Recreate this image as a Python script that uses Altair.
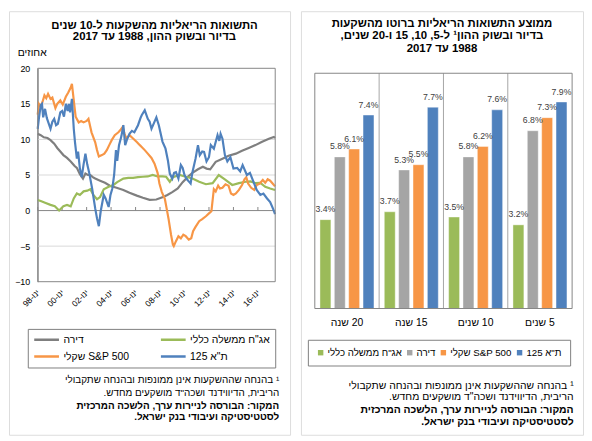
import altair as alt
import pandas as pd
from datetime import datetime, timedelta

RLE, PDF = "\u202b", "\u202c"


def rtl(s):
    return RLE + s + PDF


FONT = "Liberation Sans"

# ---------------- left panel: 10-year real returns ----------------
SER_HOUSE = "דירה"
SER_BOND = 'אג"ח ממשלה כללי'
SER_SP = "S&P 500 שקלי"
SER_TA = 'ת"א 125'

house = [(1998.00, 10.8), (1998.25, 10.6), (1998.50, 10.3), (1998.80, 10.2), (1999.05, 9.9),
         (1999.35, 9.4), (1999.60, 8.8), (1999.85, 8.3), (2000.10, 7.8), (2000.40, 7.4),
         (2000.70, 6.9), (2001.00, 6.3), (2001.20, 6.0), (2001.45, 5.1), (2001.70, 4.5),
         (2001.90, 5.2), (2002.10, 5.0), (2002.30, 5.0), (2002.50, 4.7), (2002.70, 4.5),
         (2003.10, 4.2), (2003.50, 3.9), (2003.90, 3.5), (2004.45, 3.2), (2005.00, 2.9),
         (2005.50, 2.5), (2006.10, 2.1), (2006.60, 1.8), (2007.15, 1.5), (2007.70, 1.55),
         (2008.25, 1.9), (2008.60, 2.2), (2009.00, 2.6), (2009.45, 3.1), (2009.85, 4.0),
         (2010.25, 4.7), (2010.65, 5.3), (2011.10, 5.8), (2011.50, 6.15), (2011.80, 5.9),
         (2012.10, 5.8), (2012.55, 6.85), (2013.10, 7.3), (2013.60, 7.7), (2014.20, 8.0),
         (2014.70, 8.4), (2015.25, 8.8), (2015.80, 9.2), (2016.30, 9.65), (2016.90, 10.1),
         (2017.30, 10.35), (2017.40, 10.2)]

bond = [(1998.00, 1.5), (1998.30, 1.3), (1998.60, 1.1), (1999.05, 0.8), (1999.40, 0.6),
        (1999.75, 0.0), (2000.10, 0.6), (2000.40, 0.8), (2000.70, 0.6), (2000.95, 1.7),
        (2001.20, 2.4), (2001.45, 2.2), (2001.75, 2.7), (2002.05, 2.8), (2002.30, 3.0),
        (2002.55, 2.2), (2002.85, 1.6), (2003.10, 1.9), (2003.40, 3.0), (2003.80, 3.35),
        (2004.20, 3.6), (2004.50, 4.0), (2005.00, 4.5), (2005.40, 4.6), (2005.80, 4.6),
        (2006.20, 4.7), (2006.60, 4.75), (2007.00, 4.8), (2007.40, 5.0), (2007.80, 4.8),
        (2008.20, 4.8), (2008.50, 4.75), (2008.80, 4.05), (2009.05, 4.7), (2009.60, 5.0),
        (2010.10, 4.75), (2010.65, 4.5), (2011.20, 4.05), (2011.75, 3.7), (2012.30, 3.85),
        (2012.80, 5.0), (2013.35, 4.3), (2013.90, 3.6), (2014.45, 3.85), (2015.00, 4.05),
        (2015.40, 4.1), (2015.80, 3.85), (2016.20, 3.9), (2016.60, 3.35), (2017.00, 3.1),
        (2017.40, 2.9)]

sp = [(1998.00, 13.5), (1998.10, 15.0), (1998.25, 14.6), (1998.40, 15.3), (1998.55, 16.2),
      (1998.70, 15.8), (1998.85, 16.4), (1999.05, 15.7), (1999.20, 15.9), (1999.45, 14.4),
      (1999.60, 15.0), (1999.85, 15.5), (2000.05, 14.9), (2000.30, 16.0), (2000.50, 16.6),
      (2000.70, 17.3), (2000.80, 17.8), (2000.95, 15.5), (2001.10, 13.2), (2001.35, 12.4),
      (2001.55, 12.6), (2001.75, 12.4), (2002.00, 12.6), (2002.15, 12.9), (2002.40, 11.0),
      (2002.70, 9.6), (2002.85, 8.5), (2003.00, 7.6), (2003.25, 7.8), (2003.45, 8.0),
      (2003.65, 8.5), (2003.85, 9.2), (2004.05, 9.9), (2004.30, 10.6), (2004.60, 11.0),
      (2004.80, 11.4), (2004.95, 11.75), (2005.10, 10.8), (2005.25, 10.1), (2005.50, 10.6),
      (2005.75, 10.2), (2006.10, 9.65), (2006.35, 9.2), (2006.50, 8.95), (2006.75, 8.5),
      (2007.00, 8.0), (2007.30, 7.4), (2007.55, 6.6), (2007.80, 5.3), (2007.95, 3.8),
      (2008.15, 2.6), (2008.40, 1.6), (2008.55, 0.2), (2008.70, -1.2), (2008.90, -3.4),
      (2009.05, -4.8), (2009.12, -5.0), (2009.30, -4.3), (2009.50, -3.6), (2009.70, -3.9),
      (2009.90, -3.4), (2010.10, -3.6), (2010.35, -4.1), (2010.55, -3.9), (2010.70, -2.9),
      (2010.90, -2.3), (2011.20, -1.5), (2011.45, -1.2), (2011.75, -0.8), (2012.00, -0.4),
      (2012.20, -0.1), (2012.40, 3.0), (2012.55, 2.7), (2012.75, 3.5), (2012.90, 3.1),
      (2013.10, 3.2), (2013.35, 3.7), (2013.60, 3.5), (2013.80, 2.4), (2014.00, 2.2),
      (2014.20, 2.4), (2014.45, 2.9), (2014.70, 3.6), (2014.90, 4.4), (2015.05, 4.7),
      (2015.20, 3.8), (2015.45, 3.2), (2015.70, 2.9), (2015.90, 3.6), (2016.15, 3.8),
      (2016.40, 4.3), (2016.60, 3.9), (2016.80, 4.4), (2017.00, 4.2), (2017.20, 3.8),
      (2017.40, 3.4)]

ta = [(1998.00, 11.5), (1998.10, 13.0), (1998.25, 14.8), (1998.35, 15.0), (1998.45, 13.1),
      (1998.60, 14.3), (1998.75, 13.0), (1999.05, 11.5), (1999.20, 12.5), (1999.35, 12.9),
      (1999.50, 12.0), (1999.65, 12.2), (1999.85, 13.8), (2000.00, 14.0), (2000.15, 13.2),
      (2000.30, 15.0), (2000.45, 14.0), (2000.55, 15.0), (2000.65, 13.8), (2000.80, 15.7),
      (2000.95, 11.5), (2001.05, 9.6), (2001.20, 7.3), (2001.30, 8.3), (2001.45, 5.9),
      (2001.60, 4.7), (2001.75, 6.5), (2001.90, 8.0), (2002.05, 6.5), (2002.20, 5.4),
      (2002.45, 3.1), (2002.70, 0.3), (2002.85, -1.1), (2003.00, -2.2), (2003.15, -0.1),
      (2003.40, 2.2), (2003.55, 1.7), (2003.80, 0.5), (2003.95, 2.2), (2004.10, 3.1),
      (2004.25, 5.0), (2004.40, 8.5), (2004.50, 7.0), (2004.65, 9.2), (2004.85, 10.5),
      (2005.00, 12.0), (2005.15, 9.2), (2005.30, 10.0), (2005.50, 10.8), (2005.70, 11.2),
      (2005.90, 11.0), (2006.20, 12.0), (2006.40, 13.0), (2006.50, 13.4), (2006.75, 14.1),
      (2007.00, 12.9), (2007.15, 12.5), (2007.30, 11.5), (2007.50, 12.3), (2007.70, 13.1),
      (2007.90, 12.0), (2008.20, 9.7), (2008.45, 8.7), (2008.65, 7.0), (2008.80, 5.2),
      (2009.00, 4.5), (2009.15, 5.3), (2009.30, 5.4), (2009.50, 4.5), (2009.70, 6.4),
      (2009.85, 6.0), (2010.00, 5.0), (2010.20, 4.4), (2010.40, 4.0), (2010.50, 3.8),
      (2010.65, 5.4), (2010.90, 7.3), (2011.10, 9.2), (2011.25, 7.8), (2011.45, 8.3),
      (2011.60, 8.25), (2011.80, 6.9), (2012.00, 7.5), (2012.15, 9.2), (2012.40, 8.7),
      (2012.70, 10.6), (2012.85, 9.8), (2012.95, 10.8), (2013.10, 10.1), (2013.30, 7.8),
      (2013.50, 6.9), (2013.75, 7.5), (2014.00, 5.9), (2014.30, 6.0), (2014.55, 5.5),
      (2014.75, 6.4), (2015.10, 5.0), (2015.35, 5.3), (2015.65, 4.0), (2015.90, 2.9),
      (2016.20, 2.2), (2016.45, 2.4), (2016.75, 1.7), (2017.00, 1.2), (2017.25, 0.2),
      (2017.40, -0.5)]

tick_years = [1998, 2000, 2002, 2004, 2006, 2008, 2010, 2012, 2014, 2016]
y_ticks = [-10, -5, 0, 5, 10, 15, 20]
grid_vals = [-5, 5, 10, 15]

line_order = [SER_HOUSE, SER_BOND, SER_SP, SER_TA]
line_colors = ["#7F7F7F", "#9BBB59", "#F79646", "#4F81BD"]

# ---------------- right panel: average returns ----------------
cats = ["20 שנה", "15 שנה", "10 שנים", "5 שנים"]
bar_order = [SER_BOND, SER_HOUSE, SER_SP, SER_TA]
bar_colors = ["#9BBB59", "#A5A5A5", "#F79646", "#4F81BD"]
bond_avg = [3.4, 3.7, 3.5, 3.2]
house_avg = [5.8, 5.3, 5.8, 6.8]
sp_avg = [6.1, 5.5, 6.2, 7.3]
ta_avg = [7.4, 7.7, 7.6, 7.9]


def to_date(y):
    yi = int(y)
    return datetime(yi, 1, 1) + timedelta(days=round((y - yi) * 365.25))


rows = []
for name, pts in [(SER_HOUSE, house), (SER_BOND, bond), (SER_SP, sp), (SER_TA, ta)]:
    for t, v in pts:
        rows.append({"date": to_date(t), "v": v, "series": name})
lines_df = pd.DataFrame(rows)
ticks_df = pd.DataFrame({"d": [datetime(y, 1, 1) for y in tick_years]})
grid_df = pd.DataFrame({"g": grid_vals})

brows = []
for name, vals in [(SER_BOND, bond_avg), (SER_HOUSE, house_avg), (SER_SP, sp_avg), (SER_TA, ta_avg)]:
    for c, v in zip(cats, vals):
        brows.append({"cat": c, "kind": name, "v": v})
bars_df = pd.DataFrame(brows)
sep_df = pd.DataFrame({"cat": cats[1:]})

RTL_EXPR = f"'{RLE}' + datum.label + '{PDF}'"


def txt(s, x, y, size=10.5, bold=False, align="center", color="#000000"):
    return alt.Chart(pd.DataFrame({"t": [rtl(s)]})).mark_text(
        align=align, baseline="middle", fontSize=size,
        fontWeight="bold" if bold else "normal", font=FONT, color=color
    ).encode(x=alt.value(x), y=alt.value(y), text="t:N")


# ================= LEFT PANEL =================
LW, LH = 284, 428
xscale = alt.Scale(domain=[alt.DateTime(year=1998, month=1, date=1),
                           alt.DateTime(year=2017, month=6, date=1)], range=[29, 269])
yscale = alt.Scale(domain=[-10, 20], range=[273.3, 57.7], nice=False, zero=False)

xaxis = alt.Axis(values=[alt.DateTime(year=y, month=1, date=1) for y in tick_years],
                 labelExpr=f"'{RLE}ינו-' + timeFormat(datum.value, '%y') + '{PDF}'",
                 labelAngle=-45, labelAlign="right", labelBaseline="middle",
                 labelFontSize=8.5, labelColor="#000000", labelPadding=9,
                 domain=False, ticks=False, grid=False, offset=273.3 - LH,
                 title=None, labelOverlap=False, labelFlush=False)
yaxis = alt.Axis(values=y_ticks, orient="left", offset=-29, domain=True,
                 domainColor="#868686", ticks=False, grid=False, labelFontSize=9,
                 labelColor="#000000", labelPadding=8, title=None, format="d")
leg1 = alt.Legend(orient="none", legendX=19, legendY=321, columns=2, direction="horizontal",
                  title=None, symbolType="stroke", symbolSize=625, symbolStrokeWidth=2.5,
                  clipHeight=12, labelFontSize=10.5, labelColor="#000000",
                  labelOffset=3, columnPadding=30, rowPadding=5, padding=5,
                  strokeColor="#7F7F7F", labelExpr=RTL_EXPR, labelLimit=300)

grid = alt.Chart(grid_df).mark_rule(color="#D9D9D9", strokeWidth=1).encode(
    y=alt.Y("g:Q", scale=yscale, axis=yaxis), x=alt.value(29), x2=alt.value(269))
zero = alt.Chart(pd.DataFrame({"z": [0]})).mark_rule(color="#868686", strokeWidth=1).encode(
    y=alt.Y("z:Q", scale=yscale, axis=yaxis), x=alt.value(29), x2=alt.value(269))
tks = alt.Chart(ticks_df).transform_calculate(z0="0", z1="0.5").mark_rule(
    color="#868686", strokeWidth=1).encode(
    x=alt.X("d:T", scale=xscale, axis=xaxis),
    y=alt.Y("z0:Q", scale=yscale, axis=yaxis), y2="z1:Q")

lines = alt.Chart(lines_df).mark_line(strokeWidth=2.2).encode(
    x=alt.X("date:T", scale=xscale, axis=xaxis),
    y=alt.Y("v:Q", scale=yscale, axis=yaxis),
    color=alt.Color("series:N", scale=alt.Scale(domain=line_order, range=line_colors),
                    legend=leg1),
    order=alt.Order("date:T"))

border1 = alt.Chart(pd.DataFrame({"b": [1]})).mark_rect(
    fillOpacity=0, stroke="#868686", strokeWidth=1).encode(
    x=alt.value(29), x2=alt.value(269), y=alt.value(57.7), y2=alt.value(273.3))

left = alt.layer(
    grid, zero, tks, lines, border1,
    txt("התשואות הריאליות מהשקעות ל-10 שנים", 147, 14.5, size=11.5, bold=True),
    txt("בדיור ובשוק ההון, 1988 עד 2017", 147, 26.5, size=11.5, bold=True),
    txt("אחוזים", 23.5, 42.7, size=10.5),
    txt("¹ בהנחה שההשקעות אינן ממונפות ובהנחה שתקבולי", 273, 372.5, size=10, align="right"),
    txt('הריבית, הדיווידנד ושכה"ד מושקעים מחדש.', 273, 386, size=10, align="right"),
    txt("המקור: הבורסה לניירות ערך, הלשכה המרכזית", 273, 398.5, size=10, bold=True, align="right"),
    txt("לסטטיסטיקה ועיבודי בנק ישראל.", 273, 410.5, size=10, bold=True, align="right"),
).properties(width=LW, height=LH)

# ================= RIGHT PANEL =================
RW, RH = 285, 428
bx = alt.Scale(domain=cats, paddingInner=0, paddingOuter=0.19231, align=0.56)
boff = alt.Scale(domain=bar_order, paddingInner=0.24, paddingOuter=0.36)
by = alt.Scale(domain=[0, 9], range=[300.4, 62.7], nice=False, zero=False)

cataxis = alt.Axis(orient="bottom", offset=300.4 - RH, domain=False, ticks=False,
                   labelPadding=9, labelFontSize=10.5, labelColor="#000000",
                   labelExpr=RTL_EXPR, labelAngle=0, title=None)
leg2 = alt.Legend(orient="none", legendX=7, legendY=332, direction="horizontal",
                  title=None, symbolType="square", symbolSize=30, symbolStrokeWidth=0,
                  labelFontSize=9.8, labelColor="#000000", labelOffset=2,
                  columnPadding=3, padding=8, strokeColor="#7F7F7F",
                  labelExpr=RTL_EXPR, labelLimit=300)

seps = alt.Chart(sep_df).transform_calculate(z0="0", z1="9").mark_rule(
    color="#A6A6A6", strokeWidth=1).encode(
    x=alt.X("cat:N", scale=bx, bandPosition=0, axis=cataxis),
    y=alt.Y("z0:Q", scale=by, axis=None), y2="z1:Q")

bars = alt.Chart(bars_df).mark_bar(stroke="#FFFFFF", strokeWidth=0.8, strokeOpacity=0.5).encode(
    x=alt.X("cat:N", scale=bx, axis=cataxis),
    xOffset=alt.XOffset("kind:N", scale=boff),
    y=alt.Y("v:Q", scale=by, axis=None, stack=None),
    color=alt.Color("kind:N", scale=alt.Scale(domain=bar_order, range=bar_colors),
                    legend=leg2))

blabels = alt.Chart(bars_df).transform_calculate(
    lbl="format(datum.v, '.1f') + '%'"
).mark_text(dy=-10.5, baseline="middle", fontSize=8.8, color="#404040", font=FONT).encode(
    x=alt.X("cat:N", scale=bx, axis=cataxis),
    xOffset=alt.XOffset("kind:N", scale=boff),
    y=alt.Y("v:Q", scale=by, axis=None, stack=None),
    text="lbl:N")

border2 = alt.Chart(pd.DataFrame({"b": [1]})).mark_rect(
    fillOpacity=0, stroke="#868686", strokeWidth=1).encode(
    x=alt.value(14), x2=alt.value(274), y=alt.value(62.7), y2=alt.value(300.4))

right = alt.layer(
    seps, bars, blabels, border2,
    txt("ממוצע התשואות הריאליות ברוטו מהשקעות", 142.5, 12.7, size=11.5, bold=True),
    txt("בדיור ובשוק ההון¹ ל-5, 10, 15 ו-20 שנים,", 142.5, 25.3, size=11.5, bold=True),
    txt("1988 עד 2017", 142.5, 38.7, size=11.5, bold=True),
    txt("¹ בהנחה שההשקעות אינן ממונפות ובהנחה שתקבולי", 275.5, 378.7, size=10.5, align="right"),
    txt('הריבית, הדיווידנד ושכה"ד מושקעים מחדש.', 275.5, 390.3, size=10.5, align="right"),
    txt("המקור: הבורסה לניירות ערך, הלשכה המרכזית", 275.5, 402.7, size=10.5, bold=True, align="right"),
    txt("לסטטיסטיקה ועיבודי בנק ישראל.", 275.5, 415.3, size=10.5, bold=True, align="right"),
).properties(width=RW, height=RH)

chart = alt.hconcat(left, right, spacing=9, padding=0).resolve_scale(
    color="independent"
).configure_view(stroke="#9E9E9E", strokeWidth=1).configure(font=FONT).configure_axis(
    labelFont=FONT).configure_legend(labelFont=FONT)

chart.save("out.html", embed_options={"renderer": "svg", "actions": False})
